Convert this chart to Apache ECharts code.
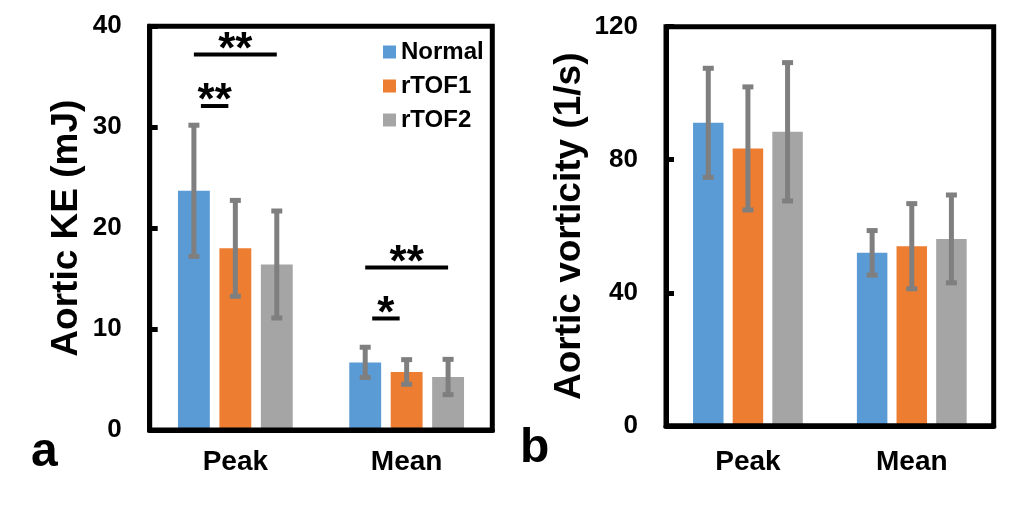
<!DOCTYPE html>
<html>
<head>
<meta charset="utf-8">
<script src="https://cdn.jsdelivr.net/npm/echarts@6/dist/echarts.min.js"></script>
<style>
  html, body { margin: 0; padding: 0; background: #fff; }
  #main { width: 1018px; height: 506px; }
</style>
</head>
<body>
<div id="main"></div>
<script>
// categories and groups
const categories = ['Peak', 'Mean'];
const groups = ['Normal', 'rTOF1', 'rTOF2'];
const colors = ['#5b9bd5', '#ed7d31', '#a5a5a5'];

// panel a: aortic KE (mJ), mean and SD per group, [Peak, Mean]
const keNormal = [23.7, 6.7];
const keTOF1 = [18.0, 5.75];
const keTOF2 = [16.4, 5.25];
const keNormalSd = [6.5, 1.5];
const keTOF1Sd = [4.75, 1.22];
const keTOF2Sd = [5.3, 1.75];

// significance marks on panel a: [category, fromGroup, toGroup, height]
const keSig = [[0, 0, 2, 37.2], [0, 0, 1, 32.1], [1, 0, 2, 16.1], [1, 0, 1, 11.05]];
const keSigText = ['**', '**', '**', '*'];

// panel b: aortic vorticity (1/s)
const vortNormal = [91.1, 52.0];
const vortTOF1 = [83.4, 54.0];
const vortTOF2 = [88.4, 56.2];
const vortNormalSd = [16.4, 6.7];
const vortTOF1Sd = [18.5, 12.8];
const vortTOF2Sd = [20.8, 13.2];

const keTicks = [0, 10, 20, 30, 40];
const vortTicks = [0, 40, 80, 120];

const FONT = '"Liberation Sans", Arial, sans-serif';
const CAT_GAP = 0.33, BAR_GAP = 0.3;

var chart = echarts.init(document.getElementById('main'));

function barStep(api) {
  const band = api.size([1, 0])[0];
  const w = band * (1 - CAT_GAP) / (groups.length + (groups.length - 1) * BAR_GAP);
  return w * (1 + BAR_GAP);
}

function errorSeries(idx, g, means, sds) {
  return {
    type: 'custom',
    name: 'err' + g,
    xAxisIndex: idx,
    yAxisIndex: idx,
    z: 5,
    silent: true,
    data: means.map((m, i) => [i, m, sds[i]]),
    renderItem: function (params, api) {
      const cat = api.value(0), mean = api.value(1), sd = api.value(2);
      const x = api.coord([cat, 0])[0] + (g - 1) * barStep(api);
      const yLo = api.coord([cat, mean - sd])[1];
      const yHi = api.coord([cat, mean + sd])[1];
      const st = { fill: '#7f7f7f' };
      return {
        type: 'group',
        children: [
          { type: 'rect', shape: { x: x - 2.5, y: yHi, width: 5, height: yLo - yHi }, style: st },
          { type: 'rect', shape: { x: x - 5.5, y: yHi - 2.5, width: 11, height: 5 }, style: st },
          { type: 'rect', shape: { x: x - 5.5, y: yLo - 2.5, width: 11, height: 5 }, style: st }
        ]
      };
    }
  };
}

function barSeries(idx, g, values) {
  return {
    type: 'bar',
    name: groups[g],
    xAxisIndex: idx,
    yAxisIndex: idx,
    barCategoryGap: (CAT_GAP * 100) + '%',
    barGap: (BAR_GAP * 100) + '%',
    itemStyle: { color: colors[g] },
    data: values
  };
}

const sigSeries = {
  type: 'custom',
  name: 'sig',
  xAxisIndex: 0,
  yAxisIndex: 0,
  silent: true,
  z: 6,
  data: keSig.map(s => [s[0], s[3], s[1], s[2]]),
  renderItem: function (params, api) {
    const cat = api.value(0), h = api.value(1), a = api.value(2), b = api.value(3);
    const step = barStep(api);
    const c = api.coord([cat, h]);
    let x0 = c[0] + (a - 1) * step, x1 = c[0] + (b - 1) * step;
    if (b - a === 1) { x0 += 7; x1 -= 7; }
    return {
      type: 'group',
      children: [
        { type: 'rect', shape: { x: x0, y: c[1] - 2, width: x1 - x0, height: 4 }, style: { fill: '#000' } },
        {
          type: 'text',
          style: {
            text: keSigText[params.dataIndex],
            x: (x0 + x1) / 2, y: c[1] - 4,
            align: 'center', verticalAlign: 'middle',
            font: 'bold 44px ' + FONT, fill: '#000'
          }
        }
      ]
    };
  }
};

function yAxis(idx, max, interval, name, gap) {
  return {
    gridIndex: idx,
    type: 'value',
    min: 0, max: max, interval: interval,
    name: name,
    nameLocation: 'middle',
    nameGap: gap,
    nameTextStyle: { fontFamily: FONT, fontWeight: 'bold', fontSize: 37, color: '#000' },
    axisLine: { show: true, lineStyle: { color: '#000', width: 5 } },
    axisTick: { show: true, inside: true, length: 8, lineStyle: { color: '#000', width: 5 } },
    axisLabel: { margin: 28, fontFamily: FONT, fontWeight: 'bold', fontSize: 26, color: '#000' },
    splitLine: { show: false }
  };
}

function xAxis(idx, margin) {
  return {
    gridIndex: idx,
    type: 'category',
    data: categories,
    z: 4,
    axisLine: { show: true, lineStyle: { color: '#000', width: 5 } },
    axisTick: { show: false },
    axisLabel: { margin: margin, fontFamily: FONT, fontWeight: 'bold', fontSize: 28, color: '#000' }
  };
}

chart.setOption({
  animation: false,
  backgroundColor: '#fff',
  grid: [
    { left: 149.7, top: 26.3, width: 342.6, height: 403.7, show: true, borderColor: '#000', borderWidth: 5, z: 4 },
    { left: 666, top: 26.7, width: 327.7, height: 399.1, show: true, borderColor: '#000', borderWidth: 5, z: 4 }
  ],
  legend: {
    data: groups,
    orient: 'vertical',
    left: 383,
    top: 40,
    padding: 0,
    itemWidth: 13,
    itemHeight: 13,
    itemGap: 10,
    itemTextGap: 8,
    icon: 'rect',
    textStyle: { fontFamily: FONT, fontWeight: 'bold', fontSize: 24, color: '#000' }
  },
  xAxis: [xAxis(0, 18), xAxis(1, 22)],
  yAxis: [
    yAxis(0, keTicks[keTicks.length - 1], keTicks[1] - keTicks[0], 'Aortic KE (mJ)', 64),
    yAxis(1, vortTicks[vortTicks.length - 1], vortTicks[1] - vortTicks[0], 'Aortic vorticity (1/s)', 78)
  ],
  graphic: [
    { type: 'text', left: 31, top: 429, style: { text: 'a', font: 'bold 48px ' + FONT, fill: '#000' } },
    { type: 'text', left: 520, top: 425, style: { text: 'b', font: 'bold 48px ' + FONT, fill: '#000' } }
  ],
  series: [
    barSeries(0, 0, keNormal), barSeries(0, 1, keTOF1), barSeries(0, 2, keTOF2),
    errorSeries(0, 0, keNormal, keNormalSd), errorSeries(0, 1, keTOF1, keTOF1Sd), errorSeries(0, 2, keTOF2, keTOF2Sd),
    sigSeries,
    barSeries(1, 0, vortNormal), barSeries(1, 1, vortTOF1), barSeries(1, 2, vortTOF2),
    errorSeries(1, 0, vortNormal, vortNormalSd), errorSeries(1, 1, vortTOF1, vortTOF1Sd), errorSeries(1, 2, vortTOF2, vortTOF2Sd)
  ]
});
</script>
</body>
</html>
